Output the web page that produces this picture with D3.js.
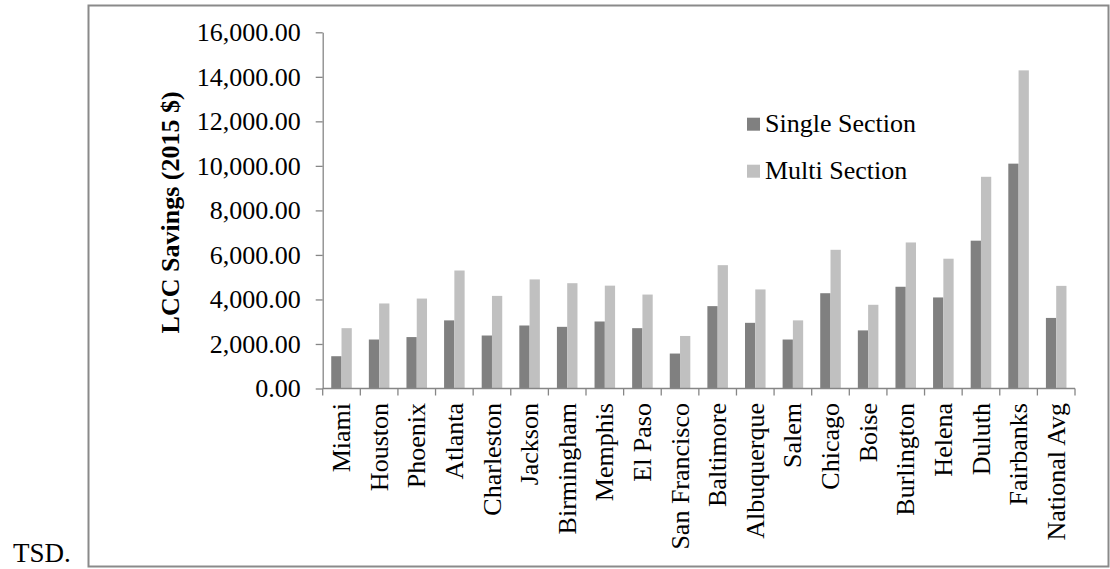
<!DOCTYPE html>
<html>
<head>
<meta charset="utf-8">
<script src="https://cdn.jsdelivr.net/npm/d3@7"></script>
<style>
  html, body { margin: 0; padding: 0; background: #fff; }
  svg { display: block; }
  svg text { font-family: "Liberation Serif", "Times New Roman", serif; fill: #000; }
</style>
</head>
<body>
<svg id="chart" width="1110" height="569"></svg>
<script>
const categories = ["Miami","Houston","Phoenix","Atlanta","Charleston","Jackson","Birmingham","Memphis","El Paso","San Francisco","Baltimore","Albuquerque","Salem","Chicago","Boise","Burlington","Helena","Duluth","Fairbanks","National Avg"];
const singleSection = [1450, 2200, 2310, 3060, 2380, 2830, 2770, 3010, 2710, 1570, 3700, 2950, 2200, 4280, 2610, 4570, 4090, 6640, 10100, 3170];
const multiSection  = [2710, 3820, 4040, 5300, 4160, 4900, 4730, 4620, 4220, 2360, 5540, 4450, 3060, 6230, 3760, 6560, 5830, 9510, 14290, 4610];
const seriesNames = ["Single Section", "Multi Section"];
const seriesColors = ["#808080", "#c0c0c0"];
const yTicks = [0, 2000, 4000, 6000, 8000, 10000, 12000, 14000, 16000];
const yTitle = "LCC Savings (2015 $)";
const captionText = "TSD.";

const FONT = "'Liberation Serif', 'Times New Roman', serif";
const svg = d3.select("#chart").attr("font-family", FONT);
const axisColor = "#868686";

// outer frame
svg.append("rect")
  .attr("x", 88.5).attr("y", 5.5)
  .attr("width", 1020).attr("height", 561)
  .attr("fill", "none").attr("stroke", "#8a8a8a").attr("stroke-width", 2);

svg.append("text")
  .attr("x", 13).attr("y", 562)
  .attr("font-size", 27)
  .style("font-family", FONT)
  .text(captionText);

const x = d3.scaleBand().domain(categories).range([322.7, 1075]).padding(0);
const x1 = d3.scaleBand().domain(seriesNames).range([0, x.bandwidth()]).paddingInner(0).paddingOuter(0.83);
const y = d3.scaleLinear().domain([0, 16000]).range([388.5, 32.3]);

const data = categories.map((c, i) => ({cat: c, vals: [singleSection[i], multiSection[i]]}));

// bars
const groups = svg.append("g").selectAll("g").data(data).join("g")
  .attr("transform", d => `translate(${x(d.cat)},0)`);
groups.selectAll("rect")
  .data(d => d.vals.map((v, k) => ({name: seriesNames[k], v, k})))
  .join("rect")
  .attr("x", d => x1(d.name))
  .attr("width", x1.bandwidth())
  .attr("y", d => y(d.v))
  .attr("height", d => y(0) - y(d.v))
  .attr("fill", d => seriesColors[d.k]);

// y axis
const yAxis = svg.append("g")
  .attr("transform", `translate(${x.range()[0]},0)`)
  .call(d3.axisLeft(y).tickValues(yTicks).tickFormat(d3.format(",.2f")).tickSize(7).tickSizeOuter(0).tickPadding(15));
yAxis.attr("font-family", FONT);
yAxis.select(".domain").attr("stroke", axisColor).attr("stroke-width", 1.3);
yAxis.selectAll(".tick line").attr("stroke", axisColor).attr("stroke-width", 1.3);
yAxis.selectAll(".tick text").attr("font-size", 26).style("font-family", FONT).attr("fill", "#000");

// x axis baseline
svg.append("line")
  .attr("x1", x.range()[0]).attr("x2", x.range()[1])
  .attr("y1", y(0)).attr("y2", y(0))
  .attr("stroke", axisColor).attr("stroke-width", 1.3);
// x tick marks at category boundaries
const boundaries = d3.range(categories.length + 1).map(i => x.range()[0] + i * x.step());
svg.append("g").selectAll("line").data(boundaries).join("line")
  .attr("x1", d => d).attr("x2", d => d)
  .attr("y1", y(0)).attr("y2", y(0) + 7)
  .attr("stroke", axisColor).attr("stroke-width", 1.3);

// x labels rotated
svg.append("g").selectAll("text").data(categories).join("text")
  .attr("transform", d => `translate(${x(d) + x.bandwidth() / 2},403) rotate(-90)`)
  .attr("text-anchor", "end")
  .attr("dy", "0.33em")
  .attr("font-size", 26)
  .style("font-family", FONT)
  .text(d => d);

// y title
svg.append("text")
  .attr("transform", `translate(179,${(y(0) + y(16000)) / 2 + 2}) rotate(-90)`)
  .attr("text-anchor", "middle")
  .attr("font-size", 26)
  .attr("font-weight", "bold")
  .style("font-family", FONT)
  .text(yTitle);

// legend
const legend = svg.append("g").selectAll("g").data(seriesNames).join("g")
  .attr("transform", (d, i) => `translate(747,${117.7 + i * 47})`);
legend.append("rect")
  .attr("width", 13).attr("height", 13)
  .attr("fill", (d, i) => seriesColors[i]);
legend.append("text")
  .attr("x", 18).attr("y", 14)
  .attr("font-size", 26)
  .style("font-family", FONT)
  .text(d => d);
</script>
</body>
</html>
